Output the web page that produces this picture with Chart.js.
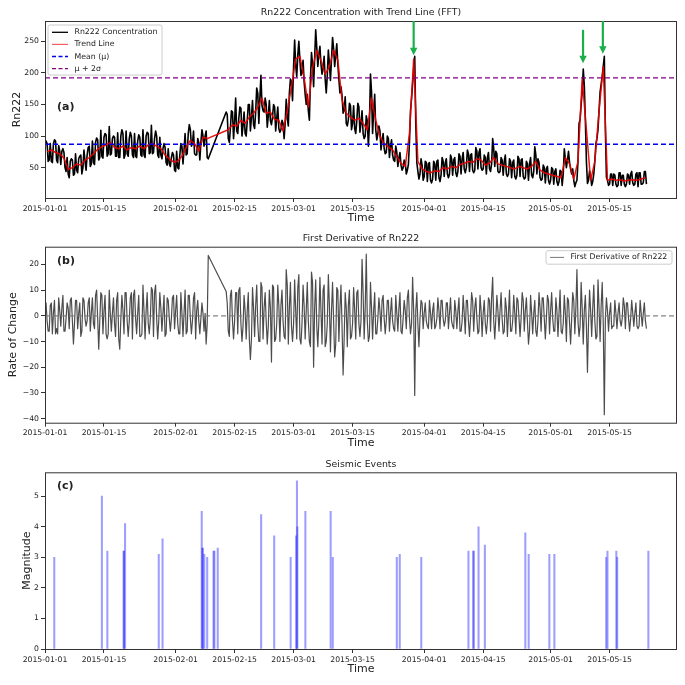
<!DOCTYPE html>
<html>
<head>
<meta charset="utf-8">
<script src="https://cdn.jsdelivr.net/npm/chart.js@4.4.1/dist/chart.umd.min.js"></script>
<style>
body{margin:0;background:#fff;}
#wrap{position:relative;width:685px;height:685px;}
canvas{position:absolute;left:0;}
</style>
</head>
<body>
<div id="wrap">
<canvas id="rnChart" width="685" height="230" style="top:0px"></canvas>
<canvas id="derivChart" width="685" height="225" style="top:230px"></canvas>
<canvas id="quakeChart" width="685" height="230" style="top:455px"></canvas>
</div>
<script>
// x values are days since 2015-01-01
var tickDays = [0, 14, 31, 45, 59, 73, 90, 104, 120, 134];
var tickLabels = ['2015-01-01', '2015-01-15', '2015-02-01', '2015-02-15', '2015-03-01', '2015-03-15', '2015-04-01', '2015-04-15', '2015-05-01', '2015-05-15'];

// Rn222 readings at 00, 06, 12 and 18 h of each day; null = no data
var rn00 = [
	84, 62, 88, 58, 76, 44, 60, 40, 64, 50,
	70, 56, 90, 66, 98, 72, 96, 68, 100, 70,
	96, 66, 92, 68, 100, 74, 96, 66, 80, 54,
	66, 44, 70, 78, 104, 88, 70, 90, 100, null,
	null, null, null, 138, 112, 122, 128, 116, 124, 130,
	138, 160, 138, 132, 130, 128, 110, 120, 168, 210,
	228, 200, 150, 190, 224, 230, 206, 196, 222, 228,
	168, 140, 126, 120, 124, 120, 100, 118, 140, 104,
	94, 74, 84, 60, 66, 50, 46, 160, 120, 40,
	36, 56, 32, 60, 38, 58, 40, 62, 44, 64,
	50, 70, 46, 74, 48, 66, 56, 76, 44, 60,
	40, 58, 38, 62, 34, 56, 44, 64, 32, 48,
	30, 44, 28, 40, 62, 40, 26, 126, 180, 30,
	28, 96, 182, 110, 24, 40, 22, 38, 24, 40,
	24, 42, 26
];
var rn06 = [
	92, 88, 94, 85, 80, 66, 64, 72, 68, 78,
	82, 92, 97, 109, 104, 115, 100, 105, 110, 108,
	106, 104, 102, 110, 106, 117, 108, 98, 88, 80,
	74, 76, 88, 104, 118, 108, 96, 110, 108, null,
	null, null, null, 134, 140, 160, 146, 138, 150, 156,
	176, 196, 160, 156, 150, 146, 125, 158, 190, 252,
	250, 220, 166, 232, 268, 242, 226, 236, 256, 246,
	178, 162, 152, 148, 152, 140, 132, 198, 166, 116,
	104, 100, 94, 84, 74, 62, 55, 182, 58, 64,
	60, 58, 60, 62, 66, 64, 70, 66, 72, 74,
	78, 72, 82, 80, 70, 74, 96, 72, 66, 70,
	64, 62, 68, 64, 60, 66, 83, 58, 54, 52,
	50, 48, 46, 80, 76, 48, 30, 150, 125, 45,
	40, 110, 195, 35, 40, 38, 42, 38, 40, 44,
	40, 42, 44
];
var rn12 = [
	88, 60, 92, 76, 74, 40, 62, 46, 70, 60,
	84, 58, 94, 68, 102, 70, 98, 66, 104, 72,
	100, 68, 98, 70, 104, 72, 100, 70, 82, 56,
	70, 50, 84, 70, 110, 72, 90, 100, 66, null,
	null, null, null, 96, 138, 108, 144, 104, 150, 118,
	168, 148, 150, 124, 146, 112, 120, 128, 186, 212,
	220, 186, 140, 214, 240, 214, 190, 214, 238, 214,
	164, 120, 148, 112, 146, 104, 124, 170, 110, 108,
	80, 96, 70, 74, 54, 58, 90, 205, 44, 54,
	58, 30, 56, 34, 60, 40, 64, 42, 68, 48,
	72, 46, 76, 50, 66, 48, 80, 44, 62, 40,
	60, 36, 64, 36, 56, 38, 70, 34, 50, 30,
	48, 28, 44, 64, 58, 30, 60, 170, 60, 36,
	60, 140, 210, 30, 40, 24, 42, 24, 38, 26,
	42, 24, 44
];
var rn18 = [
	60, 58, 62, 55, 50, 34, 38, 42, 40, 46,
	52, 55, 62, 65, 68, 72, 68, 66, 65, 68,
	70, 66, 70, 66, 72, 74, 70, 64, 58, 52,
	46, 48, 56, 72, 84, 70, 62, 84, 64, null,
	null, null, null, 90, 96, 104, 100, 100, 108, 112,
	120, 140, 114, 118, 108, 106, 96, 116, 156, 194,
	196, 166, 125, 178, 210, 198, 168, 188, 210, 190,
	136, 116, 110, 104, 106, 96, 84, 104, 94, 78,
	72, 66, 62, 52, 46, 40, 140, 226, 32, 30,
	28, 26, 30, 28, 36, 34, 38, 36, 40, 42,
	44, 42, 48, 46, 40, 44, 52, 42, 38, 36,
	34, 32, 36, 32, 30, 34, 40, 30, 26, 24,
	24, 22, 22, 50, 48, 20, 120, 206, 25, 22,
	88, 170, 226, 22, 22, 20, 22, 20, 24, 22,
	20, 24, 24
];
// FFT trend, one value per day (noon)
var trend = [
	75, 78, 74, 72, 65, 47, 50, 56, 54, 62,
	66, 72, 79, 83, 86, 90, 82, 80, 84, 78,
	82, 80, 84, 80, 86, 88, 84, 80, 70, 64,
	59, 60, 68, 82, 93, 88, 76, 98, 96, null,
	null, null, null, 110, 118, 116, 125, 120, 130, 136,
	146, 160, 136, 138, 126, 125, 108, 140, 178, 222,
	226, 192, 146, 208, 235, 220, 198, 210, 236, 220,
	157, 136, 130, 125, 128, 120, 110, 160, 125, 99,
	88, 83, 78, 67, 57, 52, 104, 222, 60, 48,
	44, 42, 45, 44, 50, 48, 52, 50, 55, 57,
	60, 58, 64, 62, 54, 57, 66, 56, 54, 52,
	50, 48, 52, 50, 48, 52, 60, 46, 42, 40,
	38, 36, 34, 66, 56, 32, 60, 190, 110, 30,
	60, 140, 210, 30, 32, 30, 31, 29, 30, 31,
	30, 32, 34
];
var meanRn = 87;
var upperRn = 192;

// first derivative, same four readings per day
var d00 = [
	2, -6, 1, -7, 3, -1, 6, -3, 1, 7,
	-2, 1, 8, -2, 2, -7, 1, 6, -1, 9,
	-2, 8, 1, -7, 2, -1, 9, -2, 1, 7,
	-1, 2, -7, 1, 8, -2, 2, -1, 1, null,
	null, null, null, 9.5, 8, -2, 10, -4, 2, -9,
	4, -10, 3, -4, 12, -3, 4, -9, 3, -3,
	11, -3, 2, -12, 3, -2, 10, -3, 2, -11,
	3, -9, 4, -3, 9, -2, 3, -8, 2, -1,
	6, -2, 1, -6, 3, -1, 7, -3, 2, -1,
	1, -5, 2, -1, 6, -2, 1, -5, 2, -2,
	6, -1, 3, -6, 1, -2, 7, -1, 2, -6,
	1, -2, 7, -1, 2, -6, 1, -2, 7, -1,
	2, -6, 1, -3, 7, -1, 3, -4, 2, -3,
	3, -8, 4, -1, 1, -4, 1, -1, 5, -1,
	1, -4, 1
];
var d06 = [
	5, 4, 6, 7, 8, 5, 7, 6, 5, 6,
	5, 7, 10, 9, 8, 10, 7, 9, 8, 9,
	7, 10, 8, 12, 9, 11, 12, 9, 8, 6,
	7, 8, 9, 10, 8, 7, 6, 5, -11, null,
	null, null, null, 5, 10, 9, 11, 8, 9, 11,
	12, 13, 9, 10, 11, 12, 10, 18, 13, 14,
	16, 12, 13, 17, 14, 15, 12, 16, 13, 11,
	12, 9, 10, 11, 10, 22, 24, 13, 9, 7,
	8, 6, 7, 8, 9, 6, 10, 15, 9, 6,
	5, 6, 5, 7, 6, 5, 7, 6, 7, 8,
	6, 9, 7, 8, 6, 7, 15, 8, 9, 7,
	10, 8, 6, 9, 7, 8, 6, 9, 7, 8,
	9, 7, 10, 8, 6, 9, 18, 13, 8, 10,
	12, 14, 13, 7, 5, 6, 5, 7, 5, 6,
	5, 6, 5
];
var d12 = [
	-2, 5, -7, 2, -6, 3, -2, 6, -8, -1,
	7, -3, -1, 8, -7, 1, -3, -9, 2, -2,
	9, -1, -8, 2, -3, 10, -1, 3, -8, -1,
	8, -3, 1, -7, -1, 9, -2, 1, -3, null,
	null, null, null, -6, -2, 9, -3, 2, -9, 3,
	-3, 11, -2, 3, -10, 4, -2, 12, -4, 2,
	-9, 4, -2, 13, -4, 2, -12, 4, -2, 10,
	-4, 3, -9, 2, -3, 9, -2, 3, -7, 2,
	-1, 6, -2, 1, -6, 2, -1, 2, -3, 5,
	-2, 1, -5, 2, -1, 5, -2, 2, -6, 1,
	-2, 6, -1, 2, -3, 6, -2, 2, -1, 3,
	-6, 1, -1, 6, -2, 1, -6, 3, -1, 6,
	-1, 2, -6, 1, -3, 6, -2, 3, -4, 2,
	-2, 3, -3, 2, -5, 1, -2, 4, -1, 1,
	-4, 1, -2
];
var d18 = [
	-6, -7, -5, -4, -6, -5, -11, -5, -6, -4,
	-6, -5, -13, -7, -9, -6, -8, -13, -7, -8,
	-9, -7, -8, -9, -7, -8, -9, -6, -7, -6,
	-5, -7, -8, -6, -7, -9, -7, -6, 23.5, null,
	null, null, null, -8, -9, -7, -10, -9, -17, -8,
	-10, -9, -11, -18, -9, -10, -8, -11, -10, -9,
	-11, -9, -10, -20, -12, -11, -10, -14, -16, -10,
	-23, -12, -8, -9, -8, -9, -10, -9, -7, -6,
	-7, -6, -5, -6, -7, -5, -7, -31, -12, -5,
	-4, -5, -4, -5, -4, -5, -4, -5, -6, -7,
	-8, -6, -7, -8, -7, -6, -9, -6, -7, -8,
	-6, -7, -8, -6, -11, -7, -8, -6, -9, -7,
	-6, -8, -7, -10, -11, -7, -8, -11, -22, -8,
	-9, -10, -38.5, -6, -4, -5, -4, -5, -6, -4,
	-5, -4, -5
];

// seismic events
var quakeDays = [2.2, 13.5, 14.8, 18.7, 18.7, 19.0, 27.0, 27.9, 37.2, 37.4, 37.4, 37.8, 38.5, 40.0, 40.2, 41.0,
	51.3, 54.4, 58.3, 59.6, 59.8, 59.9, 61.8, 67.8, 68.3, 83.5, 84.2, 89.3,
	100.5, 101.7, 101.7, 102.9, 104.4, 114.0, 114.8, 119.7, 120.9, 133.2, 133.5, 135.6, 135.8, 143.2];
var quakeMags = [3.0, 5.0, 3.2, 3.2, 3.2, 4.1, 3.1, 3.6, 4.5, 3.3, 3.3, 3.1, 3.0, 3.2, 3.2, 3.3,
	4.4, 3.7, 3.0, 3.7, 5.5, 4.0, 4.5, 4.5, 3.0, 3.0, 3.1, 3.0,
	3.2, 3.2, 3.2, 4.0, 3.4, 3.8, 3.1, 3.1, 3.1, 3.0, 3.2, 3.2, 3.0, 3.2];

// anomaly arrows (day, tip value, tail value)
var arrowDays = [87.5, 127.7, 132.4];
var arrowTips = [228, 215, 230];
var arrowTails = [282, 268, 282];

var FONT = 'DejaVu Sans';
var tickFont = {family: FONT, size: 7.7};

function quarterDays(a, b, c, d){
	var pts = [];
	for(var i=0;i<a.length;i++){
		pts.push({x: i, y: a[i]});
		pts.push({x: i + 0.25, y: b[i]});
		pts.push({x: i + 0.5, y: c[i]});
		pts.push({x: i + 0.75, y: d[i]});
	}
	return pts;
}

function daily(vals){
	var pts = [];
	for(var i=0;i<vals.length;i++){
		pts.push({x: i + 0.5, y: vals[i]});
	}
	return pts;
}

function flat(v){
	return [{x: 0, y: v}, {x: 150, y: v}];
}

function xAxis(height){
	return {
		type: 'linear', min: 0, max: 150, offset: false,
		afterFit: function(s){ s.height = height; },
		afterBuildTicks: function(s){ s.ticks = tickDays.map(function(v){ return {value: v}; }); },
		ticks: {font: tickFont, color: '#222', padding: 2, autoSkip: false, maxRotation: 0, minRotation: 0,
			callback: function(v){ return tickLabels[tickDays.indexOf(v)]; }},
		grid: {drawOnChartArea: false, tickLength: 4, color: '#333', offset: false},
		border: {display: false}
	};
}

function yAxis(min, max, ticks){
	return {
		type: 'linear', min: min, max: max,
		afterFit: function(s){ s.width = 45; },
		afterBuildTicks: function(s){ s.ticks = ticks.map(function(v){ return {value: v}; }); },
		ticks: {font: tickFont, color: '#222', padding: 2,
			callback: function(v){ return v < 0 ? '\u2212' + Math.abs(v) : '' + v; }},
		grid: {drawOnChartArea: false, tickLength: 4, color: '#333'},
		border: {display: false}
	};
}

function legendBox(ctx, x, y, w, h){
	var r = 2;
	ctx.beginPath();
	ctx.moveTo(x + r, y);
	ctx.lineTo(x + w - r, y);
	ctx.quadraticCurveTo(x + w, y, x + w, y + r);
	ctx.lineTo(x + w, y + h - r);
	ctx.quadraticCurveTo(x + w, y + h, x + w - r, y + h);
	ctx.lineTo(x + r, y + h);
	ctx.quadraticCurveTo(x, y + h, x, y + h - r);
	ctx.lineTo(x, y + r);
	ctx.quadraticCurveTo(x, y, x + r, y);
	ctx.closePath();
	ctx.fillStyle = 'rgba(255,255,255,0.85)';
	ctx.fill();
	ctx.strokeStyle = '#cccccc';
	ctx.lineWidth = 1;
	ctx.stroke();
}

// frame, titles, labels, legend and arrows
function decor(spec){
	return {
		id: 'decor',
		afterDraw: function(chart){
			var ctx = chart.ctx, a = chart.chartArea;
			var cx = (a.left + a.right) / 2;
			ctx.save();
			ctx.strokeStyle = '#333';
			ctx.lineWidth = 1;
			ctx.strokeRect(a.left + 0.5, a.top + 0.5, a.right - a.left - 1, a.bottom - a.top);
			ctx.fillStyle = '#222';
			ctx.textBaseline = 'middle';
			ctx.textAlign = 'center';
			ctx.font = '9.4px ' + FONT;
			ctx.fillText(spec.title, cx, a.top - 8);
			ctx.font = '11px ' + FONT;
			ctx.fillText('Time', cx, a.bottom + 20.5);
			ctx.save();
			ctx.translate(spec.yLabelX, (a.top + a.bottom) / 2);
			ctx.rotate(-Math.PI / 2);
			ctx.fillText(spec.yLabel, 0, 0);
			ctx.restore();
			ctx.textAlign = 'left';
			ctx.font = 'bold 11px ' + FONT;
			ctx.fillText(spec.panel, 57, a.top + spec.panelDy);

			if(spec.legend){
				var L = spec.legend;
				legendBox(ctx, L.x, a.top + L.dy, L.w, L.h);
				ctx.font = '7.8px ' + FONT;
				for(var i=0;i<L.items.length;i++){
					var it = L.items[i];
					var yy = a.top + L.dy + L.first + i * 12.1;
					ctx.beginPath();
					ctx.setLineDash(it.dash || []);
					ctx.strokeStyle = it.color;
					ctx.lineWidth = it.width;
					ctx.moveTo(L.x + 4, yy);
					ctx.lineTo(L.x + L.line, yy);
					ctx.stroke();
					ctx.setLineDash([]);
					ctx.fillStyle = '#222';
					ctx.fillText(it.label, L.x + L.line + 6.5, yy);
				}
			}

			if(spec.arrows){
				var xs = chart.scales.x, ys = chart.scales.y;
				ctx.fillStyle = '#19b04c';
				ctx.strokeStyle = '#19b04c';
				for(var k=0;k<arrowDays.length;k++){
					var px = xs.getPixelForValue(arrowDays[k]);
					var tip = ys.getPixelForValue(arrowTips[k]);
					var tail = ys.getPixelForValue(arrowTails[k]);
					ctx.lineWidth = 2.2;
					ctx.beginPath();
					ctx.moveTo(px, tail);
					ctx.lineTo(px, tip - 6);
					ctx.stroke();
					ctx.beginPath();
					ctx.moveTo(px - 3.7, tip - 7.5);
					ctx.lineTo(px + 3.7, tip - 7.5);
					ctx.lineTo(px, tip);
					ctx.closePath();
					ctx.fill();
				}
			}
			ctx.restore();
		}
	};
}

var lineBase = {pointRadius: 0, tension: 0, spanGaps: true, borderJoinStyle: 'round'};

function lineSet(label, data, color, width, order, dash){
	return Object.assign({}, lineBase, {
		label: label, data: data, borderColor: color, borderWidth: width, order: order, borderDash: dash || []
	});
}

function baseOptions(padTop){
	return {
		responsive: false, animation: false, devicePixelRatio: 1,
		layout: {padding: {left: 0, right: 8, top: padTop, bottom: 0}},
		plugins: {legend: {display: false}, tooltip: {enabled: false}, title: {display: false}}
	};
}

// (a) concentration
var optA = baseOptions(21);
optA.scales = {x: xAxis(32), y: yAxis(2, 282, [50, 100, 150, 200, 250])};
new Chart(document.getElementById('rnChart'), {
	type: 'line',
	data: {datasets: [
		lineSet('Mean (\u03bc)', flat(meanRn), '#0000ee', 1.3, 0, [5, 3]),
		lineSet('\u03bc + 2\u03c3', flat(upperRn), '#800080', 1.3, 0, [5, 3]),
		lineSet('Trend Line', daily(trend), 'rgba(232,0,0,0.92)', 1.5, 1),
		lineSet('Rn222 Concentration', quarterDays(rn00, rn06, rn12, rn18), '#000000', 1.6, 2)
	]},
	options: optA,
	plugins: [decor({
		title: 'Rn222 Concentration with Trend Line (FFT)', yLabel: 'Rn222', yLabelX: 17, panel: '(a)', panelDy: 86, arrows: true,
		legend: {x: 48, dy: 4, w: 114, h: 50, first: 7.3, line: 20, items: [
			{label: 'Rn222 Concentration', color: '#000', width: 1.3},
			{label: 'Trend Line', color: 'rgba(240,40,40,0.75)', width: 1.2},
			{label: 'Mean (\u03bc)', color: '#0000ee', width: 1.3, dash: [4, 2.5]},
			{label: '\u03bc + 2\u03c3', color: '#800080', width: 1.3, dash: [4, 2.5]}
		]}
	})]
});

// (b) first derivative
var optB = baseOptions(16.7);
optB.scales = {x: xAxis(32.3), y: yAxis(-41.6, 26.9, [-40, -30, -20, -10, 0, 10, 20])};
new Chart(document.getElementById('derivChart'), {
	type: 'line',
	data: {datasets: [
		lineSet('zero', flat(0), 'rgba(120,120,120,0.9)', 1.2, 0, [5, 3]),
		lineSet('First Derivative of Rn222', quarterDays(d00, d06, d12, d18), 'rgba(0,0,0,0.7)', 1.2, 1)
	]},
	options: optB,
	plugins: [decor({
		title: 'First Derivative of Rn222', yLabel: 'Rate of Change', yLabelX: 13, panel: '(b)', panelDy: 14.5,
		legend: {x: 546, dy: 4, w: 126, h: 13.5, first: 6.7, line: 18, items: [
			{label: 'First Derivative of Rn222', color: 'rgba(0,0,0,0.6)', width: 0.9}
		]}
	})]
});

// (c) seismic events
var quakePts = quakeDays.map(function(d, i){ return {x: d, y: quakeMags[i]}; });
var optC = baseOptions(17.3);
optC.scales = {x: xAxis(36), y: yAxis(0, 5.78, [0, 1, 2, 3, 4, 5])};
new Chart(document.getElementById('quakeChart'), {
	type: 'bar',
	data: {datasets: [{
		label: 'Magnitude', data: quakePts, backgroundColor: 'rgba(40,40,255,0.45)',
		borderWidth: 0, barThickness: 1.4, grouped: false
	}]},
	options: optC,
	plugins: [decor({title: 'Seismic Events', yLabel: 'Magnitude', yLabelX: 27, panel: '(c)', panelDy: 13.7})]
});
</script>
</body>
</html>
